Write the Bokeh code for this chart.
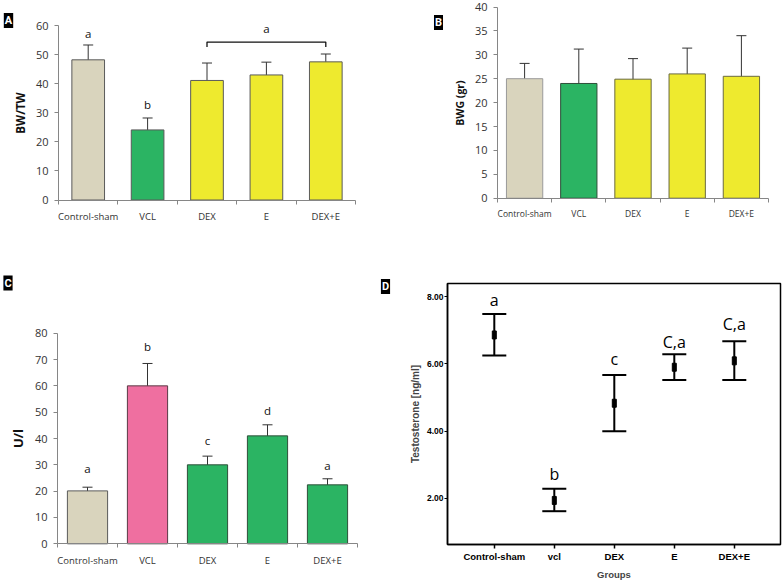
from bokeh.plotting import figure
from bokeh.models import (Range1d, FixedTicker, Whisker, ColumnDataSource, TeeHead,
                          Label, PrintfTickFormatter, LinearAxis)
from bokeh.layouts import column, row
from bokeh.embed import file_html
from bokeh.resources import INLINE
from bokeh.core.properties import value

# ---------------- data ----------------
groups = ["Control-sham", "VCL", "DEX", "E", "DEX+E"]
groups_d = ["Control-sham", "vcl", "DEX", "E", "DEX+E"]

BEIGE = "#d9d4bd"
GREEN = "#2bb463"
YELLOW = "#eeea2e"
PINK = "#ef6fa0"

# Panel A: BW/TW
a_mean = [48.2, 24.1, 41.1, 43.0, 47.5]
a_low = [42.7, 20.0, 35.1, 38.7, 44.7]
a_high = [53.3, 28.2, 47.1, 47.4, 50.2]
a_colors = [BEIGE, GREEN, YELLOW, YELLOW, YELLOW]
a_ticks = [0, 10, 20, 30, 40, 50, 60]
a_letter_idx = [0, 1]
a_letter_text = ["a", "b"]
a_letter_y = [55.2, 30.7]
a_bracket_from = 2
a_bracket_to = 4
a_bracket_y = 54.3
a_bracket_tip = 52.6
a_bracket_text = "a"
a_bracket_text_y = 56.8

# Panel B: BWG (gr)
b_mean = [25.0, 24.0, 24.9, 26.0, 25.5]
b_low = [21.8, 16.9, 20.5, 20.5, 17.0]
b_high = [28.2, 31.2, 29.2, 31.4, 34.0]
b_colors = [BEIGE, GREEN, YELLOW, YELLOW, YELLOW]
b_ticks = [0, 5, 10, 15, 20, 25, 30, 35, 40]

# Panel C: U/l
c_mean = [20.1, 60.0, 30.0, 41.0, 22.4]
c_low = [18.6, 51.4, 27.0, 36.8, 20.1]
c_high = [21.5, 68.5, 33.3, 45.2, 24.7]
c_colors = [BEIGE, PINK, GREEN, GREEN, GREEN]
c_ticks = [0, 10, 20, 30, 40, 50, 60, 70, 80]
c_letter_text = ["a", "b", "c", "d", "a"]
c_letter_y = [26.3, 72.5, 37.1, 48.5, 27.5]

# Panel D: Testosterone [ng/ml]
d_mean = [6.86, 1.94, 4.83, 5.90, 6.09]
d_low = [6.25, 1.62, 4.00, 5.52, 5.52]
d_high = [7.48, 2.29, 5.67, 6.29, 6.67]
d_ticks = [2, 4, 6, 8]
d_xlim = (0.22, 5.77)
d_ylim = (0.63, 8.39)
d_letter_text = ["a", "b", "c", "C,a", "C,a"]
d_letter_y = [7.66, 2.49, 5.90, 6.40, 6.96]

xs = list(range(1, len(groups) + 1))
AX = "#868686"
TXT = "#333333"


def make_fig(W, H, axbox, xlim, ylim):
    """Figure whose frame fills the canvas; axes are pinned at the data limits."""
    l, r, t, b = axbox
    kx = (r - l) / (xlim[1] - xlim[0])
    ky = (b - t) / (ylim[1] - ylim[0])
    xr = (xlim[0] - l / kx, xlim[1] + (W - r) / kx)
    yr = (ylim[0] - (H - b) / ky, ylim[1] + t / ky)
    p = figure(width=W, height=H, output_backend="svg", toolbar_location=None,
               x_range=Range1d(*xr), y_range=Range1d(*yr),
               x_axis_type=None, y_axis_type=None,
               min_border=0, min_border_left=0, min_border_right=0,
               min_border_top=0, min_border_bottom=0)
    p.outline_line_color = None
    p.xgrid.visible = False
    p.ygrid.visible = False
    xa = LinearAxis(fixed_location=ylim[0], bounds=xlim)
    ya = LinearAxis(fixed_location=xlim[0], bounds=ylim)
    p.add_layout(xa, "below")
    p.add_layout(ya, "left")
    p._conv = (W, H, xr, yr)
    return p, xa, ya


def panel_tag(p, text, px, py):
    W, H, xr, yr = p._conv
    x = xr[0] + px / W * (xr[1] - xr[0])
    y = yr[1] - py / H * (yr[1] - yr[0])
    p.add_layout(Label(x=x, y=y, text=text,
                       text_color="white", text_font="Roboto",
                       text_font_style="bold", text_font_size="11px",
                       text_align="center", text_baseline="middle",
                       background_fill_color="black", padding=1))


def bar_panel(W, H, axbox, means, lows, highs, colors, edges, bar_w,
              ticks, ytitle, ytitle_size, cat_size, tick_size):
    p, xa, ya = make_fig(W, H, axbox, (0.5, len(groups) + 0.5), (ticks[0], ticks[-1]))
    src = ColumnDataSource(dict(x=xs, top=means, lo=lows, hi=highs,
                                color=colors, edge=edges))
    p.vbar(x="x", top="top", bottom=0, width=bar_w, fill_color="color",
           line_color="edge", line_width=1, source=src)
    p.add_layout(Whisker(base="x", lower="lo", upper="hi", source=src,
                         line_color="#333333", line_width=1,
                         upper_head=TeeHead(size=10, line_color="#333333", line_width=1),
                         lower_head=TeeHead(size=10, line_color="#333333", line_width=1)))
    xa.ticker = FixedTicker(ticks=xs, minor_ticks=[x - 0.5 for x in xs] + [xs[-1] + 0.5])
    xa.major_label_overrides = {x: g for x, g in zip(xs, groups)}
    xa.major_tick_out = 0
    xa.major_tick_in = 0
    xa.major_tick_line_color = None
    xa.minor_tick_out = 4
    xa.minor_tick_in = 0
    xa.minor_tick_line_color = AX
    xa.axis_line_color = AX
    xa.major_label_standoff = 6
    xa.major_label_text_font = "Open Sans"
    xa.major_label_text_font_size = cat_size
    xa.major_label_text_color = TXT
    ya.ticker = FixedTicker(ticks=ticks)
    ya.major_tick_out = 4
    ya.major_tick_in = 0
    ya.minor_tick_line_color = None
    ya.major_tick_line_color = AX
    ya.axis_line_color = AX
    ya.major_label_standoff = 6
    ya.major_label_text_font = "Open Sans"
    ya.major_label_text_font_size = tick_size
    ya.major_label_text_color = TXT
    ya.axis_label = ytitle
    ya.axis_label_text_font = "Open Sans"
    ya.axis_label_text_font_style = "bold"
    ya.axis_label_text_font_size = ytitle_size
    ya.axis_label_text_color = "#111111"
    ya.axis_label_standoff = 5
    return p


LET = dict(text_font=value("Open Sans"), text_font_size="11.5px", text_color="#111111",
           text_align="center", text_baseline="alphabetic", y_offset=-6)

# ---------------- Panel A ----------------
pA = bar_panel(392, 262, (58, 355, 25, 199.5), a_mean, a_low, a_high, a_colors,
               ["#5a5a5a"] * 5, 0.55, a_ticks, "BW/TW", "11.5px", "9.5px", "11px")
pA.text(x=[xs[i] for i in a_letter_idx], y=a_letter_y, text=a_letter_text, **LET)
bx0 = xs[a_bracket_from]
bx1 = xs[a_bracket_to]
pA.multi_line(xs=[[bx0, bx0, bx1, bx1]],
              ys=[[a_bracket_tip, a_bracket_y, a_bracket_y, a_bracket_tip]],
              line_color="#111111", line_width=1.3)
pA.text(x=[(bx0 + bx1) / 2], y=[a_bracket_text_y], text=[a_bracket_text], **LET)
panel_tag(pA, "A", 8, 20)

# ---------------- Panel B ----------------
pB = bar_panel(392, 262, (105, 376, 6.5, 197.7), b_mean, b_low, b_high, b_colors,
               ["#9a9a9a", "#2f4f3a", "#6a6a40", "#6a6a40", "#6a6a40"], 0.67,
               b_ticks, "BWG (gr)", "10.5px", "8.5px", "11px")
panel_tag(pB, "B", 46, 22)

# ---------------- Panel C ----------------
pC = bar_panel(372, 319, (57, 357, 70.7, 281.3), c_mean, c_low, c_high, c_colors,
               ["#5a5a5a", "#5a3a46", "#2f4f3a", "#2f4f3a", "#2f4f3a"], 0.67,
               c_ticks, "U/l", "13px", "9.5px", "11px")
pC.text(x=xs, y=c_letter_y, text=c_letter_text, **LET)
panel_tag(pC, "C", 7.5, 20.5)

# ---------------- Panel D ----------------
pD, dx, dy = make_fig(412, 319, (75, 408, 21, 282), d_xlim, d_ylim)
# plot-area frame of the SPSS chart (drawn at the axis limits)
pD.quad(left=[d_xlim[0]], right=[d_xlim[1]], bottom=[d_ylim[0]], top=[d_ylim[1]],
        fill_color=None, line_color="black", line_width=1.5)
dsrc = ColumnDataSource(dict(x=xs, m=d_mean, lo=d_low, hi=d_high))
pD.add_layout(Whisker(base="x", lower="lo", upper="hi", source=dsrc,
                      line_color="black", line_width=2,
                      upper_head=TeeHead(size=24, line_color="black", line_width=2),
                      lower_head=TeeHead(size=24, line_color="black", line_width=2)))
pD.rect(x="x", y="m", width=4, height=8, width_units="screen", height_units="screen",
        fill_color="black", line_color="black", source=dsrc)
pD.text(x=xs, y=d_letter_y, text=d_letter_text,
        text_font=value("Open Sans"), text_font_size="16px", text_color="black",
        text_align="center", text_baseline="alphabetic", y_offset=-8)
dx.ticker = FixedTicker(ticks=xs)
dx.major_label_overrides = {x: g for x, g in zip(xs, groups_d)}
dx.major_tick_out = 4
dx.major_tick_in = 0
dx.minor_tick_line_color = None
dx.major_tick_line_color = "black"
dx.major_tick_line_width = 1.5
dx.axis_line_color = "black"
dx.axis_line_width = 1.5
dx.major_label_standoff = 2
dx.major_label_text_font = "Liberation Sans"
dx.major_label_text_font_style = "bold"
dx.major_label_text_font_size = "9.5px"
dx.major_label_text_color = "black"
dx.axis_label = "Groups"
dx.axis_label_text_font = "Liberation Sans"
dx.axis_label_text_font_style = "bold"
dx.axis_label_text_font_size = "9.5px"
dx.axis_label_standoff = 4
dy.ticker = FixedTicker(ticks=d_ticks)
dy.formatter = PrintfTickFormatter(format="%.2f")
dy.major_tick_out = 3
dy.major_tick_in = 0
dy.minor_tick_line_color = None
dy.major_tick_line_color = "black"
dy.axis_line_color = "black"
dy.axis_line_width = 1.5
dy.major_label_standoff = 1
dy.major_label_text_font = "Liberation Sans"
dy.major_label_text_font_style = "bold"
dy.major_label_text_font_size = "8.5px"
dy.major_label_text_color = "black"
dy.axis_label = "Testosterone [ng/ml]"
dy.axis_label_text_font = "Liberation Sans"
dy.axis_label_text_font_style = "bold"
dy.axis_label_text_font_size = "10px"
dy.axis_label_standoff = 3
panel_tag(pD, "D", 13, 24)

layout = column(row(pA, pB), row(pC, pD))
open("out.html", "w").write(file_html(layout, INLINE))
